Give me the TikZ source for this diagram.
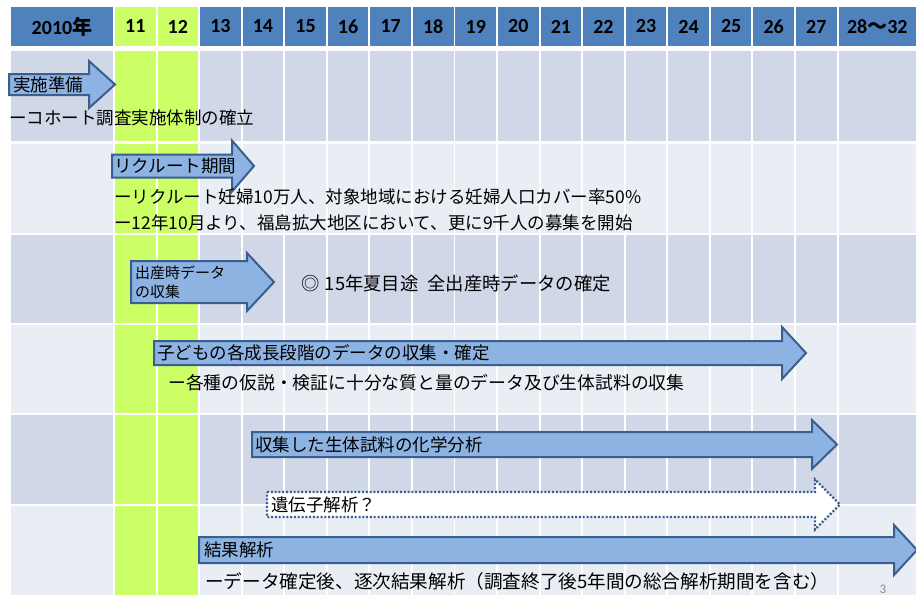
\documentclass[tikz,border=0pt]{standalone}
\usepackage{fontspec}
\setmainfont{Noto Sans CJK JP}
\newfontfamily\hdrfont{Carlito}
\definecolor{hdrblue}{HTML}{4F81BD}
\definecolor{bandA}{HTML}{D0D8E8}
\definecolor{bandB}{HTML}{E9EDF4}
\definecolor{limeg}{HTML}{CCFF66}
\definecolor{arrfill}{HTML}{8DB3E2}
\definecolor{arrline}{HTML}{3A5F8E}
\definecolor{pgnum}{HTML}{8C8C8C}
\newcommand\blockarrow[7]{%
  \draw[#7] (#1,#4-#5) -- (#2,#4-#5) -- (#2,#4-#6) -- (#3,#4) -- (#2,#4+#6) -- (#2,#4+#5) -- (#1,#4+#5) -- cycle;}
\tikzset{
  solidarrow/.style={fill=arrfill, draw=arrline, line width=2pt, line join=miter},
  dotarrow/.style={fill=white, draw=arrline, line width=2.2pt, dash pattern=on 2pt off 1.8pt, line join=miter},
  hdrtxt/.style={inner sep=0pt, font=\fontsize{20}{23}\selectfont\hdrfont\bfseries},
  jptxt/.style={anchor=west, inner sep=0pt, font=\fontsize{17.5}{20}\selectfont},
  smalltxt/.style={anchor=west, inner sep=0pt, align=left, font=\fontsize{15}{19}\selectfont},
}
\begin{document}
\begin{tikzpicture}[x=1pt,y=-1pt]
\useasboundingbox (0,0) rectangle (916,595);
\fill[white] (0,0) rectangle (916,595);
% header row
\fill[hdrblue] (11,7) rectangle (113,46);
\foreach \i in {0,1}{
  \pgfmathsetmacro\ca{115+42.56*\i}
  \fill[limeg] (\ca,7) rectangle ({\ca+40.6},46);
}
\foreach \i in {2,...,16}{
  \pgfmathsetmacro\ca{115+42.56*\i}
  \fill[hdrblue] (\ca,7) rectangle ({\ca+40.6},46);
}
\fill[hdrblue] (838.6,7) rectangle (916,46);
% body rows
\foreach \ra/\rb/\c in {51/141/bandA,144/233/bandB,235/323/bandA,325/413/bandB,415/504/bandA,506/595/bandB}{
  \fill[\c] (11,\ra) rectangle (113,\rb);
  \foreach \i in {0,1}{
    \pgfmathsetmacro\ca{115+42.56*\i}
    \fill[limeg] (\ca,\ra) rectangle ({\ca+40.6},\rb);
  }
  \foreach \i in {2,...,16}{
    \pgfmathsetmacro\ca{115+42.56*\i}
    \fill[\c] (\ca,\ra) rectangle ({\ca+40.6},\rb);
  }
  \fill[\c] (838.6,\ra) rectangle (916,\rb);
}
% header labels
\node[inner sep=0pt] (h10) at (62,26.5) {\fontsize{20}{23}\selectfont{\hdrfont\bfseries 2010}{\bfseries 年}};
\foreach \i/\t in {0/11,1/12,2/13,3/14,4/15,5/16,6/17,7/18,8/19,9/20,10/21,11/22,12/23,13/24,14/25,15/26,16/27}{
  \node[hdrtxt] (h\t) at ({115+42.56*\i+20.3},26.5) {\t};
}
\node[inner sep=0pt] (h28) at (877.3,26.5) {\fontsize{20}{23}\selectfont{\hdrfont\bfseries 28}{\bfseries 〜}{\hdrfont\bfseries 32}};
% arrows
\blockarrow{9}{89}{115}{84.5}{10.5}{23.5}{solidarrow}
\blockarrow{112}{232}{254}{166}{11.5}{25.5}{solidarrow}
\blockarrow{131}{247}{274}{282}{21}{29}{solidarrow}
\blockarrow{154}{782}{806}{353}{12}{26}{solidarrow}
\blockarrow{252}{812}{837}{444.5}{12.5}{24.5}{solidarrow}
\blockarrow{267}{815}{840}{504.5}{12.5}{25}{dotarrow}
\blockarrow{199}{894}{917}{550}{13}{25}{solidarrow}
% texts
\node[jptxt] (t1) at (13,85) {実施準備};
\node[jptxt] (t1b) at (9,118) {ーコホート調査実施体制の確立};
\node[jptxt] (t2) at (114,166) {リクルート期間};
\node[jptxt] (t2b) at (114,197) {ーリクルート妊婦10万人、対象地域における妊婦人口カバー率50\%};
\node[jptxt] (t2c) at (114,223) {ー12年10月より、福島拡大地区において、更に9千人の募集を開始};
\node[smalltxt] (t3) at (135,282.5) {出産時データ\\の収集};
\node[jptxt, font=\fontsize{18.3}{20}\selectfont] (t3b) at (301,283) {◎\hspace{0.3em}15年夏目途\hspace{0.5em}全出産時データの確定};
\node[jptxt] (t4) at (157,353) {子どもの各成長段階のデータの収集・確定};
\node[jptxt, font=\fontsize{17.8}{20}\selectfont] (t4b) at (168,383) {ー各種の仮説・検証に十分な質と量のデータ及び生体試料の収集};
\node[jptxt] (t5) at (255,445) {収集した生体試料の化学分析};
\node[jptxt] (t6) at (271,505) {遺伝子解析？};
\node[jptxt] (t7) at (204,550) {結果解析};
\node[jptxt, font=\fontsize{18.6}{20}\selectfont] (t7b) at (205,581) {ーデータ確定後、逐次結果解析（調査終了後5年間の総合解析期間を含む）};
\node[inner sep=0pt, text=pgnum, font=\fontsize{13}{15}\selectfont\hdrfont] (pg) at (883,589) {3};
\end{tikzpicture}
\end{document}
